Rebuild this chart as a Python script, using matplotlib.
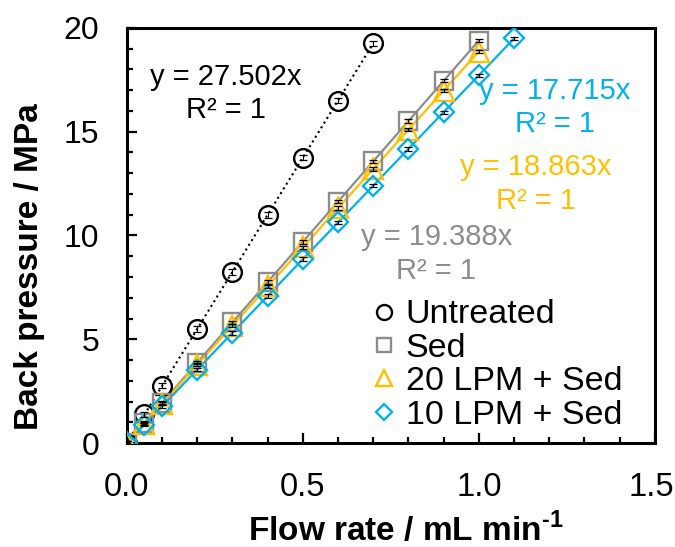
import numpy as np
import matplotlib.pyplot as plt
from matplotlib.ticker import MultipleLocator, FuncFormatter

plt.rcParams['font.family'] = ['Liberation Sans', 'DejaVu Sans']
plt.rcParams['mathtext.fontset'] = 'custom'
plt.rcParams['mathtext.rm'] = 'Liberation Sans:bold'
plt.rcParams['mathtext.bf'] = 'Liberation Sans:bold'

# measured back pressure (MPa) against flow rate (mL/min)
flow_untreated = [0, 0.05, 0.1, 0.2, 0.3, 0.4, 0.5, 0.6, 0.7]
bp_untreated = [0, 1.38, 2.75, 5.50, 8.25, 11.00, 13.75, 16.50, 19.25]
err_untreated = [0.10, 0.12, 0.12, 0.15, 0.15, 0.15, 0.12, 0.12, 0.10]

flow_sed = [0, 0.05, 0.1, 0.2, 0.3, 0.4, 0.5, 0.6, 0.7, 0.8, 0.9, 1.0]
bp_sed = [0, 0.97, 1.94, 3.88, 5.82, 7.76, 9.69, 11.63, 13.57, 15.51, 17.45, 19.39]
err_sed = [0.08, 0.08, 0.08, 0.08, 0.08, 0.08, 0.08, 0.08, 0.08, 0.08, 0.08, 0.08]

flow_20 = [0, 0.05, 0.1, 0.2, 0.3, 0.4, 0.5, 0.6, 0.7, 0.8, 0.9, 1.0]
bp_20 = [0, 0.94, 1.89, 3.77, 5.66, 7.55, 9.43, 11.32, 13.20, 15.09, 16.98, 18.86]
err_20 = [0.08, 0.08, 0.08, 0.08, 0.08, 0.08, 0.08, 0.08, 0.08, 0.08, 0.08, 0.08]

flow_10 = [0, 0.05, 0.1, 0.2, 0.3, 0.4, 0.5, 0.6, 0.7, 0.8, 0.9, 1.0, 1.1]
bp_10 = [0, 0.89, 1.77, 3.54, 5.31, 7.09, 8.86, 10.63, 12.40, 14.17, 15.94, 17.72, 19.49]
err_10 = [0.08, 0.08, 0.08, 0.08, 0.08, 0.08, 0.08, 0.08, 0.08, 0.08, 0.08, 0.08, 0.08]

# linear fits through the origin
slopes = [27.502, 19.388, 18.863, 17.715]

XMAX = 1.5
YMAX = 20

series = [
    ("Untreated", flow_untreated, bp_untreated, err_untreated, "black", "o", ":"),
    ("Sed", flow_sed, bp_sed, err_sed, "#8c8c8c", "s", "-"),
    ("20 LPM + Sed", flow_20, bp_20, err_20, "#ffc000", "^", "-"),
    ("10 LPM + Sed", flow_10, bp_10, err_10, "#00b0f0", "D", "-"),
]
marker_sizes = {"o": 13.5, "s": 13, "^": 14, "D": 10.5}

fig = plt.figure(figsize=(6.75, 5.47), dpi=100)
ax = fig.add_axes([0.188, 0.190, 0.782, 0.759])

for (label, x, y, err, color, marker, ls), k in zip(series, slopes):
    xf = np.array([0, max(x)])
    ax.plot(xf, k * xf, color=color, linestyle=ls, lw=1.6 if ls == "-" else 1.5, zorder=2)
    ax.plot(x, y, linestyle="none", marker=marker, ms=marker_sizes[marker],
            mfc="none", mec=color, mew=1.7, label=label, zorder=3)
    ax.errorbar(x, y, yerr=err, fmt="none", ecolor="black", elinewidth=0.8,
                capsize=3, capthick=0.9, zorder=4)

# trendline equations
eq_kw = dict(fontsize=21, ha="center", va="center", linespacing=1.25,
             multialignment="center")
ax.text(0.281, 16.84, "y = 27.502x\nR² = 1", color="black", **eq_kw)
ax.text(1.216, 16.17, "y = 17.715x\nR² = 1", color="#00b0f0", **eq_kw)
ax.text(1.161, 12.48, "y = 18.863x\nR² = 1", color="#ffc000", **eq_kw)
ax.text(0.879, 9.11, "y = 19.388x\nR² = 1", color="#8c8c8c", **eq_kw)

ax.set_xlim(0, XMAX)
ax.set_ylim(0, YMAX)
ax.xaxis.set_major_locator(MultipleLocator(0.5))
ax.xaxis.set_minor_locator(MultipleLocator(0.1))
ax.yaxis.set_major_locator(MultipleLocator(5))
ax.yaxis.set_minor_locator(MultipleLocator(1))
# last x label is drawn separately so it can sit a little left of its tick
ax.xaxis.set_major_formatter(FuncFormatter(lambda v, p: "" if v >= XMAX - 1e-9 else f"{v:.1f}"))
ax.tick_params(which="both", direction="in", width=1.6)
ax.tick_params(axis="x", which="major", pad=21, labelsize=23.5)
ax.tick_params(axis="y", which="major", pad=20, labelsize=23)
ax.tick_params(which="major", length=7)
ax.tick_params(which="minor", length=4)
for sp in ax.spines.values():
    sp.set_linewidth(2.2)

ax.annotate(f"{XMAX:.1f}", xy=(XMAX, 0), xycoords=ax.get_xaxis_transform(),
            xytext=(-2.5, -21), textcoords="offset points",
            ha="center", va="top", fontsize=23.5)

ax.set_xlabel(r"Flow rate / mL min$^{\text{-1}}$", fontsize=24, fontweight="bold")
ax.set_ylabel("Back pressure / MPa", fontsize=24, fontweight="bold")
ax.xaxis.label.set_verticalalignment("baseline")
ax.yaxis.label.set_verticalalignment("baseline")
ax.xaxis.set_label_coords(0.528, -0.236)
ax.yaxis.set_label_coords(-0.169, 0.424)

ax.legend(loc="lower left", bbox_to_anchor=(0.464, 0.03), frameon=False,
          fontsize=24.5, markerscale=0.8, handlelength=0.7, handletextpad=0.3,
          labelspacing=0.07, borderaxespad=0, borderpad=0)

fig.savefig("out.png", dpi=100)
